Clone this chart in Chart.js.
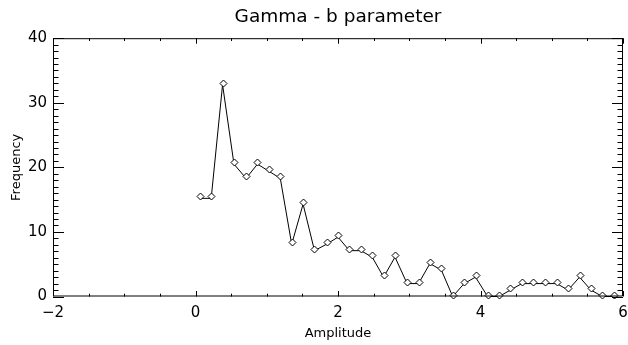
<!DOCTYPE html>
<html>
<head>
<meta charset="utf-8">
<script src="https://cdn.jsdelivr.net/npm/chart.js@4.4.1/dist/chart.umd.min.js"></script>
<style>
  html, body { margin: 0; padding: 0; background: #fff; }
  #wrap { width: 628px; height: 345px; }
</style>
</head>
<body>
<div id="wrap"><canvas id="myChart" width="628" height="345"></canvas></div>
<script>
// values
const amplitude = [0.06, 0.22, 0.38, 0.54, 0.71, 0.87, 1.03, 1.19, 1.35, 1.51,
  1.67, 1.84, 2.00, 2.16, 2.32, 2.48, 2.64, 2.80, 2.97, 3.13,
  3.29, 3.45, 3.61, 3.77, 3.93, 4.10, 4.26, 4.42, 4.58, 4.74,
  4.90, 5.07, 5.23, 5.39, 5.55, 5.71, 5.87];
const frequency = [15.2, 15.2, 32.8, 20.5, 18.3, 20.5, 19.4, 18.3, 8.1, 14.3,
  7.1, 8.1, 9.2, 7.1, 7.1, 6.1, 3.0, 6.1, 2.0, 2.0,
  5.1, 4.1, 0, 2.0, 3.0, 0, 0, 1.0, 2.0, 2.0,
  2.0, 2.0, 1.0, 3.0, 1.0, 0, 0];

const xMin = -2, xMax = 6, xStep = 2, xMinor = 0.5;
const yMin = 0, yMax = 40, yStep = 10, yMinor = 1;

const font = "'DejaVu Sans', sans-serif";

// hollow diamonds, sitting a little above each point like the IDL symbol
const diamonds = {
  id: 'diamonds',
  afterDatasetsDraw(chart) {
    const ctx = chart.ctx;
    ctx.save();
    ctx.strokeStyle = '#000';
    ctx.fillStyle = '#fff';
    ctx.lineWidth = 1;
    chart.getDatasetMeta(0).data.forEach(p => {
      const cx = Math.round(p.x) + 0.5, cy = Math.round(p.y) - 2 + 0.5, r = 3.5;
      ctx.beginPath();
      ctx.moveTo(cx, cy - r); ctx.lineTo(cx + r, cy); ctx.lineTo(cx, cy + r); ctx.lineTo(cx - r, cy);
      ctx.closePath();
      ctx.fill();
      ctx.stroke();
    });
    ctx.restore();
  }
};

// box frame with inward ticks on all four sides
const frameTicks = {
  id: 'frameTicks',
  afterDraw(chart) {
    const {ctx, chartArea: a, scales: {x, y}} = chart;
    ctx.save();
    ctx.strokeStyle = '#000';
    ctx.lineWidth = 1;
    ctx.beginPath();
    ctx.rect(a.left + 0.5, a.top + 0.5, a.right - a.left - 1, a.bottom - a.top - 1);
    for (let v = xMin; v <= xMax + 1e-9; v += xMinor) {
      const px = Math.round(x.getPixelForValue(v)) + 0.5;
      const len = Math.abs(v / xStep - Math.round(v / xStep)) < 1e-6 ? 5.5 : 2.8;
      ctx.moveTo(px, a.bottom); ctx.lineTo(px, a.bottom - len);
      ctx.moveTo(px, a.top); ctx.lineTo(px, a.top + len);
    }
    for (let v = yMin; v <= yMax + 1e-9; v += yMinor) {
      const py = Math.round(y.getPixelForValue(v)) + 0.5;
      const len = Math.abs(v / yStep - Math.round(v / yStep)) < 1e-6 ? 11 : 5.5;
      ctx.moveTo(a.left, py); ctx.lineTo(a.left + len, py);
      ctx.moveTo(a.right, py); ctx.lineTo(a.right - len, py);
    }
    ctx.stroke();
    ctx.restore();
  }
};

let ctx = document.getElementById('myChart').getContext('2d');
let myChart = new Chart(ctx, {
  type: 'line',
  data: {
    datasets: [{
      data: amplitude.map((a, i) => ({x: a, y: frequency[i]})),
      borderColor: '#000',
      borderWidth: 1,
      tension: 0,
      pointRadius: 0,
      clip: false
    }]
  },
  options: {
    responsive: false,
    animation: false,
    layout: {padding: {left: 0, right: 5, top: 0, bottom: 0}},
    plugins: {
      legend: {display: false},
      tooltip: {enabled: false},
      title: {
        display: true,
        fullSize: false,
        text: 'Gamma - b parameter',
        color: '#000',
        font: {family: font, size: 18.5, weight: 'normal'},
        padding: {top: 6, bottom: 10}
      }
    },
    scales: {
      x: {
        type: 'linear',
        min: xMin, max: xMax,
        grid: {display: false, drawTicks: false},
        border: {display: false},
        ticks: {
          stepSize: xStep,
          color: '#000',
          padding: 8,
          font: {family: font, size: 15},
          callback: v => String(v).replace('-', '\u2212')
        },
        title: {
          display: true, text: 'Amplitude', color: '#000',
          font: {family: font, size: 13}, padding: {top: 0, bottom: 4}
        },
        afterFit: s => { s.height = 48.5; s.paddingLeft = 0; s.paddingRight = 0; }
      },
      y: {
        min: yMin, max: yMax,
        grid: {display: false, drawTicks: false},
        border: {display: false},
        ticks: {
          stepSize: yStep,
          color: '#000',
          padding: 6,
          font: {family: font, size: 15}
        },
        title: {
          display: true, text: 'Frequency', color: '#000',
          font: {family: font, size: 13}, padding: {top: 9, bottom: 0}
        },
        afterFit: s => { s.width = 53; s.paddingTop = 0; s.paddingBottom = 0; }
      }
    }
  },
  plugins: [diamonds, frameTicks]
});
</script>
</body>
</html>
